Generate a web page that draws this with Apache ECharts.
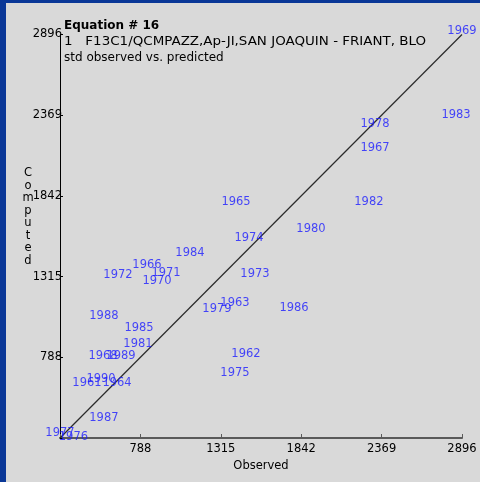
<!DOCTYPE html>
<html>
<head>
<meta charset="utf-8">
<script src="https://cdn.jsdelivr.net/npm/echarts@6/dist/echarts.min.js"></script>
<style>
  html, body { margin: 0; padding: 0; background: #d9d9d9; }
  #chart { width: 480px; height: 482px; }
</style>
</head>
<body>
<div id="chart"></div>
<script>
// Water years and their observed / computed values
const years = [1961, 1962, 1963, 1964, 1965, 1966, 1967, 1968, 1969, 1970,
               1971, 1972, 1973, 1974, 1975, 1976, 1977, 1978, 1979, 1980,
               1981, 1982, 1983, 1984, 1985, 1986, 1987, 1988, 1989, 1990];
const observed = [438, 1480, 1408, 635, 1415, 831, 2326, 543, 2896, 897,
                  956, 641, 1539, 1500, 1408, 349, 261, 2326, 1290, 1906,
                  772, 2286, 2857, 1113, 779, 1795, 549, 549, 661, 530];
const computed = [603, 793, 1125, 603, 1784, 1373, 2136, 779, 2896, 1269,
                  1321, 1308, 1314, 1549, 669, 245, 275, 2293, 1086, 1608,
                  858, 1784, 2351, 1451, 962, 1093, 369, 1040, 779, 629];
const axisTicks = [261, 788, 1315, 1842, 2369, 2896];
const oneToOne = [[261, 261], [2896, 2896]];

const titleLines = [
  'Equation # 16',
  '1   F13C1/QCMPAZZ,Ap-JI,SAN JOAQUIN - FRIANT, BLO',
  'std observed vs. predicted'
];

const FONT = 'DejaVu Sans';
const points = years.map((y, i) => [observed[i], computed[i], y]);

const chart = echarts.init(document.getElementById('chart'), null, { renderer: 'canvas' });
chart.setOption({
  animation: false,
  backgroundColor: '#d9d9d9',
  grid: { left: 60, right: 18, top: 34.5, bottom: 44, containLabel: false },
  graphic: [
    { type: 'rect', left: 0, top: 0, shape: { width: 6, height: 482 }, style: { fill: '#0a3797' }, silent: true },
    { type: 'rect', left: 0, top: 0, shape: { width: 480, height: 3 }, style: { fill: '#0a3797' }, silent: true },
    { type: 'text', x: 64, y: 20, style: { text: titleLines[0], font: 'bold 12px "' + FONT + '"', fill: '#000' } },
    { type: 'text', x: 64, y: 35.5, scaleX: 1.12, style: { text: titleLines[1], font: '12px "' + FONT + '"', fill: '#000' } },
    { type: 'text', x: 64, y: 51.5, style: { text: titleLines[2], font: '12px "' + FONT + '"', fill: '#000' } },
    { type: 'text', x: 28, y: 167, style: { text: 'Computed'.split('').join('\n'), font: '11.5px "' + FONT + '"', fill: '#000', lineHeight: 12.5, align: 'center' } }
  ],
  xAxis: {
    type: 'value',
    min: axisTicks[0], max: axisTicks[axisTicks.length - 1], interval: axisTicks[1] - axisTicks[0],
    name: 'Observed', nameLocation: 'middle', nameGap: 21,
    nameTextStyle: { fontFamily: FONT, fontSize: 11.5, color: '#000' },
    axisLine: { lineStyle: { color: '#5a5a5a', width: 2 } },
    axisTick: { inside: true, length: 4, lineStyle: { color: '#5a5a5a' } },
    axisLabel: {
      margin: 5, fontFamily: FONT, fontSize: 11.5, color: '#000',
      formatter: v => (v === axisTicks[0] ? '' : String(v))
    },
    splitLine: { show: false }
  },
  yAxis: {
    type: 'value',
    min: axisTicks[0], max: axisTicks[axisTicks.length - 1], interval: axisTicks[1] - axisTicks[0],
    axisLine: { lineStyle: { color: '#000', width: 1 } },
    axisTick: { inside: true, length: 3, lineStyle: { color: '#000' } },
    axisLabel: {
      margin: -2, fontFamily: FONT, fontSize: 11.5, color: '#000',
      formatter: v => (v === axisTicks[0] ? '' : String(v))
    },
    splitLine: { show: false }
  },
  series: [
    {
      type: 'line',
      data: oneToOne,
      symbol: 'none',
      lineStyle: { color: '#2a2a2a', width: 1.2 },
      z: 1
    },
    {
      type: 'scatter',
      data: points,
      symbolSize: 1,
      itemStyle: { color: 'rgba(0,0,0,0)' },
      clip: false,
      label: {
        show: true,
        position: 'inside',
        offset: [0, -3],
        formatter: p => String(p.value[2]),
        fontFamily: FONT, fontSize: 11.5, color: '#1c1cff'
      },
      z: 3
    }
  ]
});
</script>
</body>
</html>
